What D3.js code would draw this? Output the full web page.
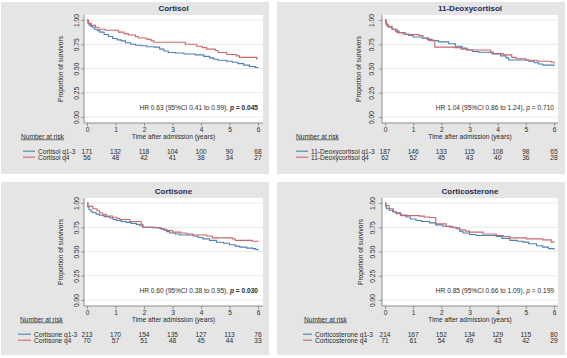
<!DOCTYPE html>
<html>
<head>
<meta charset="utf-8">
<script src="https://cdn.jsdelivr.net/npm/d3@7"></script>
<style>
    body { margin: 0; background: #fff; }
    svg { display: block; font-family: 'Liberation Sans', Arial, sans-serif; }
</style>
</head>
<body>
<div id="chart"></div>
<script>
// Kaplan-Meier panels, four hormones, q1-3 vs q4

const years = [0, 1, 2, 3, 4, 5, 6]
const yTicks = [0, 0.25, 0.5, 0.75, 1]
const hormones = ['Cortisol', '11-Deoxycortisol', 'Cortisone', 'Corticosterone']
const hrLabels = [
    'HR 0.63 (95%CI 0.41 to 0.99), ',
    'HR 1.04 (95%CI 0.86 to 1.24), ',
    'HR 0.60 (95%CI 0.38 to 0.95), ',
    'HR 0.85 (95%CI 0.66 to 1.09), '
]
const pValues = ['0.045', '0.710', '0.030', '0.199']
const pSignificant = [true, false, true, false]

// number at risk at years 0..6
const riskLow = [
    [171, 132, 118, 104, 100, 90, 68],
    [187, 146, 133, 115, 108, 98, 65],
    [213, 170, 154, 135, 127, 113, 76],
    [214, 167, 152, 134, 129, 115, 80]
]
const riskHigh = [
    [56, 48, 42, 41, 38, 34, 27],
    [62, 52, 45, 43, 40, 36, 28],
    [70, 57, 51, 48, 45, 44, 33],
    [71, 61, 54, 49, 43, 42, 29]
]

// survival steps [years, proportion]
const cortisolLow = [[0, 1], [0.03, 0.97], [0.07, 0.95], [0.12, 0.935], [0.19, 0.925], [0.26, 0.905], [0.36, 0.89],
    [0.45, 0.875], [0.6, 0.85], [0.75, 0.83], [0.9, 0.81], [1.06, 0.795], [1.2, 0.785], [1.35, 0.765], [1.53, 0.75],
    [1.7, 0.74], [1.9, 0.735], [2.1, 0.725], [2.35, 0.72], [2.55, 0.7], [2.7, 0.68], [2.85, 0.665], [3.1, 0.66],
    [3.4, 0.65], [3.8, 0.64], [4.1, 0.625], [4.3, 0.61], [4.45, 0.595], [4.6, 0.585], [4.9, 0.575], [5.1, 0.565],
    [5.3, 0.55], [5.5, 0.535], [5.7, 0.52], [5.9, 0.51], [6, 0.505]]
const cortisolHigh = [[0, 1], [0.05, 0.965], [0.15, 0.945], [0.3, 0.925], [0.42, 0.905], [0.65, 0.895], [1.1, 0.875],
    [1.3, 0.86], [1.45, 0.845], [1.7, 0.83], [1.8, 0.815], [2.1, 0.8], [2.25, 0.785], [2.35, 0.77], [3.45, 0.75],
    [3.85, 0.73], [4.05, 0.715], [4.2, 0.7], [4.5, 0.685], [4.6, 0.665], [4.9, 0.645], [5.25, 0.63], [5.35, 0.615],
    [5.95, 0.6], [6, 0.6]]
const deoxyLow = [[0, 1], [0.03, 0.96], [0.08, 0.935], [0.13, 0.925], [0.25, 0.905], [0.37, 0.885], [0.5, 0.87],
    [0.65, 0.855], [0.84, 0.84], [1.0, 0.825], [1.31, 0.815], [1.5, 0.8], [1.67, 0.787], [1.9, 0.775], [2.26, 0.755],
    [2.5, 0.73], [2.73, 0.71], [2.9, 0.69], [3.1, 0.675], [3.33, 0.667], [3.8, 0.65], [4.1, 0.63], [4.3, 0.61],
    [4.39, 0.588], [5.1, 0.575], [5.3, 0.56], [5.45, 0.546], [5.6, 0.535], [5.99, 0.53], [6, 0.525]]
const deoxyHigh = [[0, 1], [0.05, 0.95], [0.12, 0.935], [0.25, 0.905], [0.43, 0.87], [0.72, 0.85], [1.2, 0.84],
    [1.35, 0.815], [1.55, 0.79], [1.77, 0.72], [2.45, 0.715], [2.7, 0.7], [2.95, 0.69], [3.75, 0.67], [3.85, 0.653],
    [4.2, 0.64], [4.5, 0.615], [4.65, 0.6], [5.0, 0.585], [5.4, 0.575], [5.9, 0.565], [6, 0.55]]
const cortisoneLow = [[0, 1], [0.03, 0.96], [0.07, 0.93], [0.14, 0.91], [0.21, 0.9], [0.32, 0.885], [0.44, 0.874],
    [0.6, 0.86], [0.8, 0.846], [0.92, 0.83], [1.03, 0.82], [1.2, 0.81], [1.38, 0.8], [1.55, 0.79], [1.73, 0.78],
    [1.85, 0.765], [1.96, 0.75], [2.3, 0.745], [2.55, 0.737], [2.7, 0.72], [2.8, 0.705], [2.9, 0.69], [3.1, 0.68],
    [3.25, 0.67], [3.72, 0.66], [3.9, 0.645], [4.07, 0.63], [4.3, 0.615], [4.54, 0.595], [4.8, 0.585], [5, 0.57],
    [5.2, 0.555], [5.36, 0.545], [5.6, 0.535], [5.82, 0.53], [5.92, 0.52], [6, 0.51]]
const cortisoneHigh = [[0, 1], [0.03, 0.965], [0.2, 0.94], [0.35, 0.92], [0.44, 0.9], [0.55, 0.88], [0.68, 0.866],
    [0.9, 0.853], [1.05, 0.84], [1.15, 0.83], [1.5, 0.81], [1.9, 0.78], [1.96, 0.75], [2.4, 0.745], [2.6, 0.73],
    [2.8, 0.716], [3, 0.7], [3.3, 0.69], [3.5, 0.68], [3.72, 0.67], [4.2, 0.66], [4.4, 0.64], [5.1, 0.63],
    [5.2, 0.615], [5.8, 0.605], [6, 0.6]]
const corticoLow = [[0, 1], [0.03, 0.96], [0.06, 0.94], [0.15, 0.925], [0.27, 0.91], [0.39, 0.9], [0.55, 0.875],
    [0.75, 0.855], [0.9, 0.835], [1.1, 0.82], [1.3, 0.81], [1.58, 0.795], [1.8, 0.775], [2.05, 0.76], [2.3, 0.75],
    [2.53, 0.735], [2.65, 0.71], [2.77, 0.69], [3.0, 0.675], [3.24, 0.665], [3.95, 0.655], [4.15, 0.635],
    [4.43, 0.615], [4.7, 0.605], [4.9, 0.597], [5.1, 0.58], [5.38, 0.56], [5.6, 0.545], [5.8, 0.53], [6, 0.517]]
const corticoHigh = [[0, 1], [0.03, 0.975], [0.15, 0.94], [0.3, 0.91], [0.39, 0.89], [0.57, 0.87], [1.22, 0.865],
    [1.4, 0.855], [1.58, 0.85], [1.8, 0.785], [2.17, 0.76], [2.4, 0.745], [2.65, 0.725], [2.85, 0.71], [3, 0.7],
    [3.48, 0.68], [3.95, 0.665], [4.2, 0.655], [4.43, 0.64], [5.02, 0.63], [5.6, 0.62], [5.9, 0.597], [6, 0.59]]

const curvesLow = [cortisolLow, deoxyLow, cortisoneLow, corticoLow]
const curvesHigh = [cortisolHigh, deoxyHigh, cortisoneHigh, corticoHigh]

// layout of each panel in page pixels
const layouts = [
    {bx: 1, by: 2, bw: 268, bh: 172, oy: 0, plotLeft: 84, plotRight: 263, x0: 87, x6: 258, yLabelX: 77, yTitleX: 61, legendX: 23, textX: 38, narX: 21},
    {bx: 277, by: 2, bw: 288, bh: 172, oy: 0, plotLeft: 382, plotRight: 558, x0: 385, x6: 554, yLabelX: 372, yTitleX: 359, legendX: 296, textX: 311, narX: 296},
    {bx: 1, by: 182, bw: 268, bh: 173, oy: 183, plotLeft: 84, plotRight: 263, x0: 87, x6: 258, yLabelX: 77, yTitleX: 61, legendX: 18, textX: 34, narX: 20},
    {bx: 277, by: 182, bw: 288, bh: 173, oy: 183, plotLeft: 382, plotRight: 558, x0: 385, x6: 554, yLabelX: 373, yTitleX: 361, legendX: 303, textX: 315, narX: 304}
]

const blue = '#4c7fb4'
const red = '#c8686b'
const textColor = '#2b2b2b'
const fontSize = 6.6

class KMPanel {
    constructor(svg, i) {
        this.svg = svg
        this.i = i
        this.lay = layouts[i]
        this.g = svg.append('g')
        this.initialize()
    }

    initialize = () => {
        this.drawBackground()
        this.createScales()
        this.drawGrid()
        this.drawAxes()
        this.drawCurves()
        this.drawTexts()
        this.drawRiskTable()
    }

    drawBackground = () => {
        let l = this.lay
        this.g.append('rect').attr('x', l.bx).attr('y', l.by).attr('width', l.bw).attr('height', l.bh).style('fill', '#e5e5e5')
        this.g.append('rect').attr('x', l.plotLeft).attr('y', 15 + l.oy).attr('width', l.plotRight - l.plotLeft)
            .attr('height', 108).style('fill', '#fff')
    }

    createScales = () => {
        let l = this.lay
        this.xScale = d3.scaleLinear().domain([0, 6]).range([l.x0, l.x6])
        this.yScale = d3.scaleLinear().domain([0, 1]).range([117 + l.oy, 20 + l.oy])
        this.bottom = 123 + l.oy
    }

    drawGrid = () => {
        let l = this.lay
        this.g.selectAll('.grid').data(yTicks).enter().append('line')
            .attr('x1', l.plotLeft).attr('x2', l.plotRight)
            .attr('y1', d => this.yScale(d)).attr('y2', d => this.yScale(d))
            .style('stroke', '#dce7ea').style('stroke-width', 0.8)
    }

    drawAxes = () => {
        let l = this.lay
        let xAxis = d3.axisBottom(this.xScale).tickValues(years).tickFormat(d3.format('d'))
            .tickSize(3).tickSizeOuter(0).tickPadding(2)
        let gx = this.g.append('g').attr('transform', 'translate(0,' + this.bottom + ')').call(xAxis)
        gx.select('.domain').remove()
        gx.selectAll('line').style('stroke', '#777').style('stroke-width', 0.7)
        gx.selectAll('text').attr('font-size', fontSize).style('fill', textColor).attr('y', 4.2).attr('dy', '0.71em')

        let yAxis = d3.axisLeft(this.yScale).tickValues(yTicks).tickSize(3).tickSizeOuter(0).tickFormat(d3.format('.2f'))
        let gy = this.g.append('g').attr('transform', 'translate(' + l.plotLeft + ',0)').call(yAxis)
        gy.select('.domain').remove()
        gy.selectAll('line').style('stroke', '#777').style('stroke-width', 0.7)
        gy.selectAll('text').attr('font-size', fontSize).style('fill', textColor)
            .attr('x', 0).attr('dy', 0).attr('text-anchor', 'middle')
            .attr('transform', 'translate(' + (l.yLabelX + 2.3 - l.plotLeft) + ',0) rotate(-90)')

        this.g.append('line').attr('x1', l.plotLeft).attr('x2', l.plotRight).attr('y1', this.bottom).attr('y2', this.bottom)
            .style('stroke', '#777').style('stroke-width', 0.8)
        this.g.append('line').attr('x1', l.plotLeft).attr('x2', l.plotLeft).attr('y1', 15 + l.oy).attr('y2', this.bottom)
            .style('stroke', '#777').style('stroke-width', 0.8)
    }

    drawCurves = () => {
        let line = d3.line().x(d => this.xScale(d[0])).y(d => this.yScale(d[1])).curve(d3.curveStepAfter)
        this.g.append('path').attr('d', line(curvesLow[this.i])).style('fill', 'none').style('stroke', blue).style('stroke-width', 1.1)
        this.g.append('path').attr('d', line(curvesHigh[this.i])).style('fill', 'none').style('stroke', red).style('stroke-width', 1.1)
    }

    drawTexts = () => {
        let l = this.lay
        let midX = (l.plotLeft + l.plotRight) / 2
        this.g.append('text').attr('x', midX).attr('y', 11 + l.oy).attr('text-anchor', 'middle')
            .attr('font-size', 8).attr('font-weight', 'bold').style('fill', '#1d2a55').text(hormones[this.i])

        this.g.append('text').attr('x', midX).attr('y', 138.5 + l.oy).attr('text-anchor', 'middle')
            .attr('font-size', fontSize).style('fill', textColor).text('Time after admission (years)')

        let cy = (15 + 123) / 2 + l.oy
        this.g.append('text').attr('transform', 'translate(' + (l.yTitleX + 2.3) + ',' + cy + ') rotate(-90)')
            .attr('text-anchor', 'middle').attr('font-size', fontSize).style('fill', textColor).text('Proportion of survivors')

        let hr = this.g.append('text').attr('x', this.xScale(6)).attr('y', this.yScale(0.1) + 2.3)
            .attr('text-anchor', 'end').attr('font-size', fontSize).style('fill', textColor)
        hr.append('tspan').text(hrLabels[this.i])
        let bold = pSignificant[this.i] ? 'bold' : 'normal'
        hr.append('tspan').attr('font-style', 'italic').attr('font-weight', bold).text('p')
        hr.append('tspan').attr('font-weight', bold).text(' = ' + pValues[this.i])
    }

    drawRiskTable = () => {
        let l = this.lay
        this.g.append('text').attr('x', l.narX).attr('y', 138.5 + l.oy).attr('font-size', fontSize)
            .style('fill', textColor).style('text-decoration', 'underline').text('Number at risk')

        let rows = [
            {label: hormones[this.i] + ' q1-3', values: riskLow[this.i], color: blue, y: 151.7},
            {label: hormones[this.i] + ' q4', values: riskHigh[this.i], color: red, y: 157.7}
        ]
        for (let row of rows) {
            let y = row.y + l.oy
            this.g.append('line').attr('x1', l.legendX).attr('x2', l.textX - 3).attr('y1', y - 0.5).attr('y2', y - 0.5)
                .style('stroke', row.color).style('stroke-width', 1.1)
            this.g.append('text').attr('x', l.textX).attr('y', y + 2.3).attr('font-size', fontSize)
                .style('fill', textColor).text(row.label)
            this.g.selectAll(null).data(row.values).enter().append('text')
                .attr('x', (d, k) => this.xScale(years[k])).attr('y', y + 2.3)
                .attr('text-anchor', 'middle').attr('font-size', fontSize).style('fill', textColor)
                .text(d => d)
        }
    }
}

const svg = d3.select('#chart').append('svg').attr('width', 567).attr('height', 358)
for (let i = 0; i < hormones.length; i++) {
    new KMPanel(svg, i)
}
</script>
</body>
</html>
